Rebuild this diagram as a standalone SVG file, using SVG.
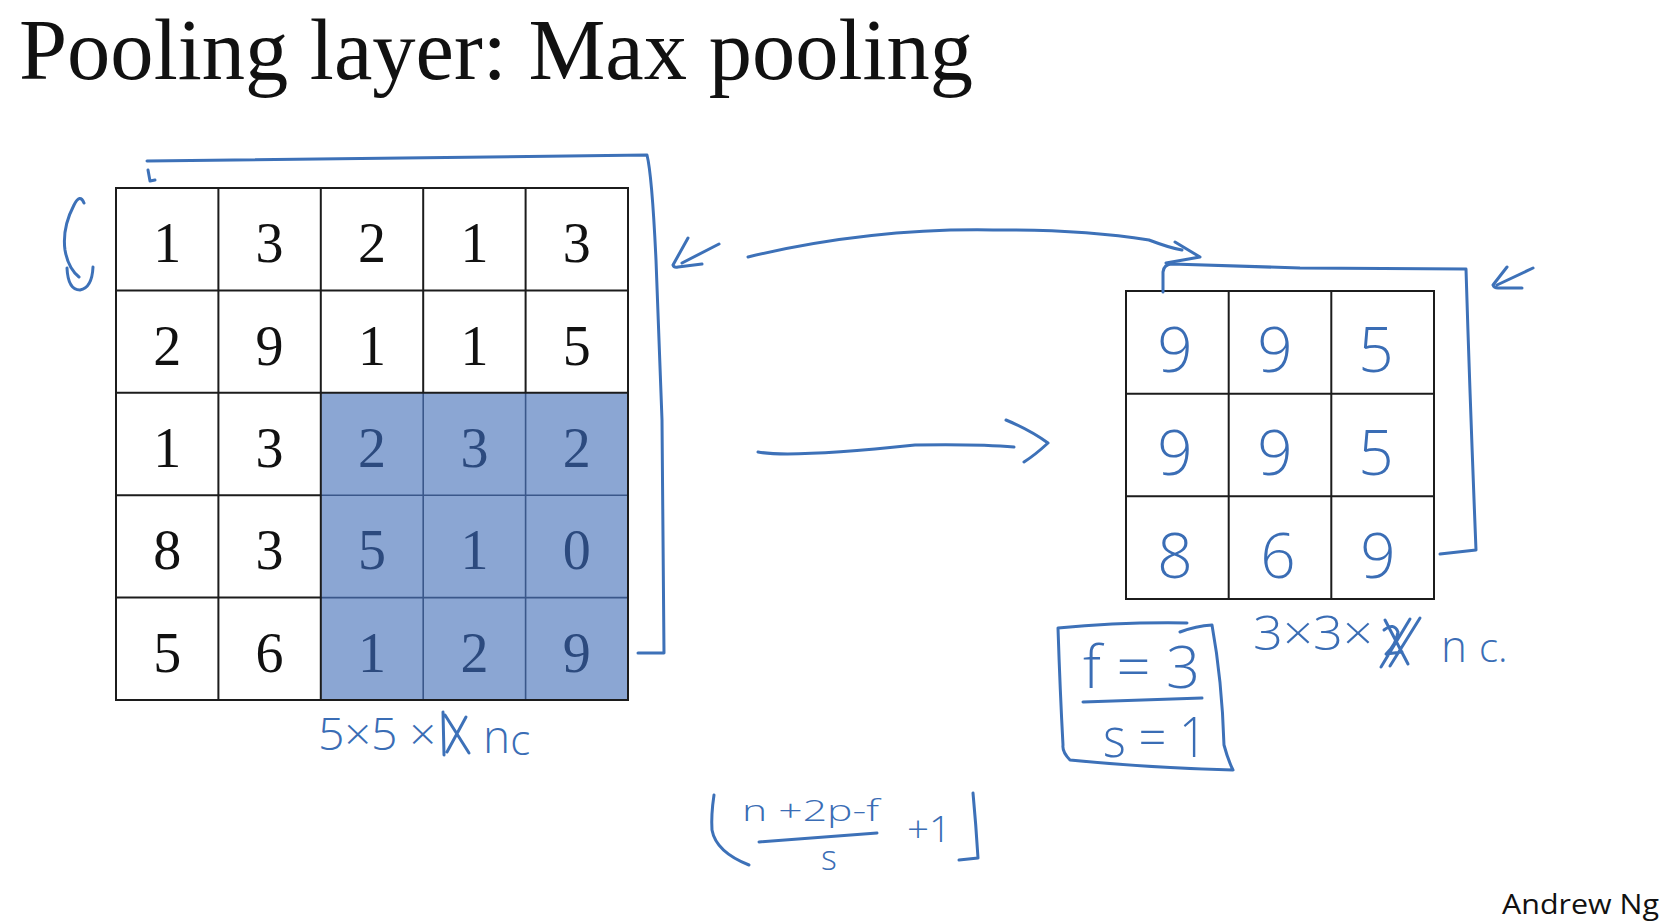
<svg xmlns="http://www.w3.org/2000/svg" width="1662" height="924" viewBox="0 0 1662 924">
<style>
.title{font-family:"Liberation Serif","DejaVu Serif",serif;font-size:86px;fill:#111}
.num{font-family:"Liberation Serif","DejaVu Serif",serif;font-size:56px;fill:#111;text-anchor:middle}
.numb{font-family:"Liberation Serif","DejaVu Serif",serif;font-size:56px;fill:#2c4a7e;text-anchor:middle}
.grid{stroke:#1c1c1c;stroke-width:2;fill:none}
.gridb{stroke:#3a578a;stroke-width:1.6;fill:none}
.hw{font-family:"Open Sans","DejaVu Sans",sans-serif;font-weight:300;fill:#3a6db5}
.ink{stroke:#3d71b8;stroke-width:3;fill:none;stroke-linecap:round;stroke-linejoin:round}
.sig{font-family:"Open Sans","Liberation Sans",sans-serif;font-size:28px;fill:#111}
</style>
<rect width="1662" height="924" fill="#ffffff"/>

<g id="title">
<text class="title" x="19" y="79" textLength="954" lengthAdjust="spacingAndGlyphs">Pooling layer: Max pooling</text>
</g>

<g id="input-grid">
<rect x="320.8" y="392.8" width="307.2" height="307.2" fill="#8ba6d3"/>
<path class="gridb" d="M423.2,392.8V700M525.6,392.8V700M320.8,495.2H628M320.8,597.6H628"/>
<path class="grid" d="M116,188H628V700H116Z M218.4,188V700M320.8,188V700M423.2,188V392.8M525.6,188V392.8M116,290.4H628M116,392.8H628M116,495.2H320.8M116,597.6H320.8M628,392.8V700M320.8,700H628"/>
<text class="num" x="167.2" y="262.2">1</text><text class="num" x="269.6" y="262.2">3</text><text class="num" x="372" y="262.2">2</text><text class="num" x="474.4" y="262.2">1</text><text class="num" x="576.8" y="262.2">3</text>
<text class="num" x="167.2" y="364.6">2</text><text class="num" x="269.6" y="364.6">9</text><text class="num" x="372" y="364.6">1</text><text class="num" x="474.4" y="364.6">1</text><text class="num" x="576.8" y="364.6">5</text>
<text class="num" x="167.2" y="467">1</text><text class="num" x="269.6" y="467">3</text><text class="numb" x="372" y="467">2</text><text class="numb" x="474.4" y="467">3</text><text class="numb" x="576.8" y="467">2</text>
<text class="num" x="167.2" y="569.4">8</text><text class="num" x="269.6" y="569.4">3</text><text class="numb" x="372" y="569.4">5</text><text class="numb" x="474.4" y="569.4">1</text><text class="numb" x="576.8" y="569.4">0</text>
<text class="num" x="167.2" y="671.8">5</text><text class="num" x="269.6" y="671.8">6</text><text class="numb" x="372" y="671.8">1</text><text class="numb" x="474.4" y="671.8">2</text><text class="numb" x="576.8" y="671.8">9</text>
</g>

<g id="output-grid">
<path class="grid" d="M1126,291H1434V599H1126Z M1228.7,291V599M1331.3,291V599M1126,393.7H1434M1126,496.3H1434"/>
<g class="hw" font-size="62" text-anchor="middle">
<text x="1175" y="372">9</text><text x="1275" y="372">9</text><text x="1376" y="372">5</text>
<text x="1175" y="475">9</text><text x="1275" y="475">9</text><text x="1376" y="475">5</text>
<text x="1175" y="578">8</text><text x="1278" y="578">6</text><text x="1378" y="578">9</text>
</g>
</g>

<g id="input-dims">
<text class="hw" x="318" y="750" font-size="44" textLength="118" lengthAdjust="spacingAndGlyphs">5×5 ×</text>
<path class="ink" d="M443,712L444,755M445,715L469,753M466,717L447,752"/>
<text class="hw" x="483" y="753" font-size="46">n<tspan font-size="42" dy="2">c</tspan></text>
</g>

<g id="output-dims">
<text class="hw" x="1253" y="650" font-size="48" textLength="120" lengthAdjust="spacingAndGlyphs">3×3×</text>
<path class="ink" d="M1381,667L1410,619M1390,666L1420,618M1385,620L1408,664M1384,630Q1394,622 1398,632Q1396,645 1386,654L1402,652"/>
<text class="hw" x="1441" y="662" font-size="44">n<tspan dx="12" font-size="40">c.</tspan></text>
</g>

<g id="hyperparams">
<path class="ink" d="M1058,628Q1120,622 1187,623M1180,632Q1196,626 1212,625Q1222,680 1224,745Q1228,760 1233,770Q1150,768 1070,760Q1062,752 1063,745Q1060,690 1058,628"/>
<text class="hw" x="1083" y="688" font-size="58" textLength="117" lengthAdjust="spacingAndGlyphs">f = 3</text>
<path class="ink" d="M1083,702L1202,698"/>
<text class="hw" x="1103" y="757" font-size="56" textLength="104" lengthAdjust="spacingAndGlyphs">s = 1</text>
</g>

<g id="formula">
<path class="ink" d="M714,795Q711,815 712,830Q716,852 749,865"/>
<text class="hw" x="742" y="821" font-size="30" textLength="137" lengthAdjust="spacingAndGlyphs">n +2p-f</text>
<path class="ink" d="M759,842L877,833"/>
<text class="hw" x="821" y="870" font-size="34">s</text>
<text class="hw" x="907" y="842" font-size="36" textLength="44" lengthAdjust="spacingAndGlyphs">+1</text>
<path class="ink" d="M973,793Q976,825 978,858L959,860"/>
</g>

<g id="connectors">
<path class="ink" d="M147,161Q400,158 647,155Q652,175 656,260L662,420L664,653L638,653"/>
<path class="ink" d="M148,170L150,181L155,180"/>
<path class="ink" d="M84,203Q80,193 74,205Q62,228 65,250Q68,268 79,277M67,268Q68,290 80,290Q92,288 93,267"/>
<path class="ink" d="M688,238L673,265Q674,268 678,267L702,264M719,244L682,263"/>
<path class="ink" d="M748,257Q870,228 993,230Q1080,229 1149,240Q1170,248 1182,250M1175,242L1200,257L1166,263"/>
<path class="ink" d="M1163,292L1163,272Q1164,264 1172,264L1300,268L1466,269Q1470,400 1476,550L1440,554"/>
<path class="ink" d="M1507,267L1493,285Q1494,288 1498,288L1522,288M1533,268L1497,285"/>
<path class="ink" d="M758,452Q790,458 915,445Q980,444 1014,447M1006,420Q1030,430 1048,443Q1035,455 1024,462"/>
</g>

<g id="signature">
<text class="sig" x="1502" y="914" textLength="157" lengthAdjust="spacingAndGlyphs">Andrew Ng</text>
</g>
</svg>
